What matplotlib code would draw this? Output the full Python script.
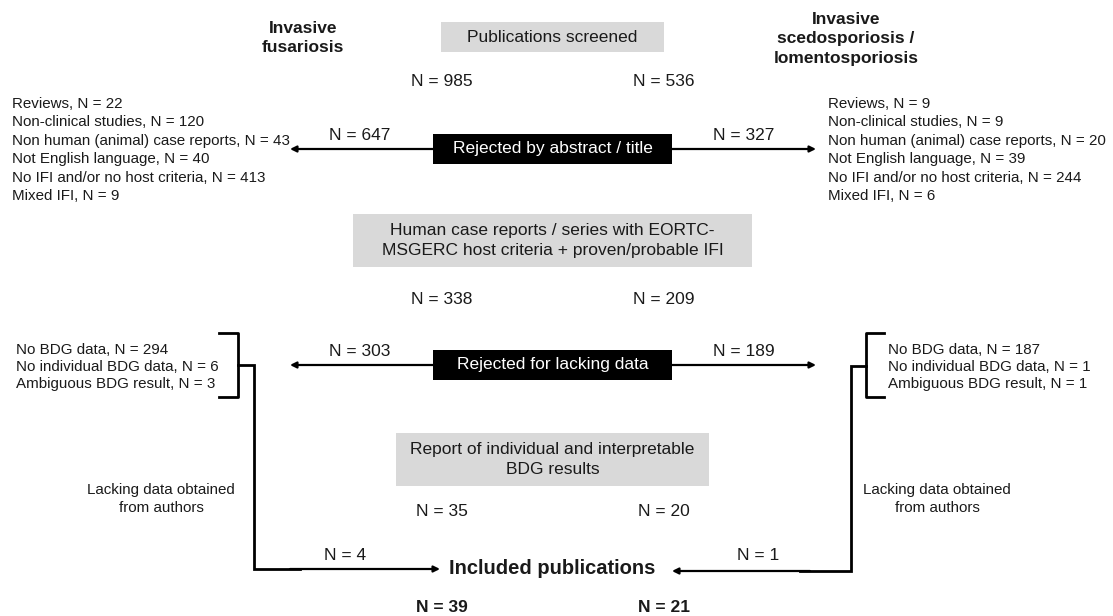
import matplotlib.pyplot as plt
from matplotlib.patches import Rectangle

plt.rcParams['font.family'] = ['Liberation Sans', 'DejaVu Sans']

# chart content
groups = ["Invasive\nfusariosis", "Invasive\nscedosporiosis /\nlomentosporiosis"]
stages = ["Publications screened",
          "Human case reports / series with EORTC-\nMSGERC host criteria + proven/probable IFI",
          "Report of individual and interpretable\nBDG results"]
stage_left = [985, 338, 35]
stage_right = [536, 209, 20]
reject_steps = ["Rejected by abstract / title", "Rejected for lacking data"]
reject_left = [647, 303]
reject_right = [327, 189]
reasons1 = ["Reviews", "Non-clinical studies", "Non human (animal) case reports",
            "Not English language", "No IFI and/or no host criteria", "Mixed IFI"]
reasons1_left = [22, 120, 43, 40, 413, 9]
reasons1_right = [9, 9, 20, 39, 244, 6]
reasons2 = ["No BDG data", "No individual BDG data", "Ambiguous BDG result"]
reasons2_left = [294, 6, 3]
reasons2_right = [187, 1, 1]
authors_note = "Lacking data obtained\nfrom authors"
obtained_left = 4
obtained_right = 1
final_label = "Included publications"
final_left = 39
final_right = 21

TXT = '#1a1a1a'
GREY = '#d9d9d9'

fig = plt.figure(figsize=(11.13, 6.16), dpi=100)
ax = fig.add_axes([0, 0, 1, 1])
ax.set_xlim(0, 1113)
ax.set_ylim(616, 0)
ax.axis('off')

xl, xr = 442, 664   # N columns
xc = 552.5


def arrow(x0, y0, x1, y1):
    ax.annotate('', xy=(x1, y1), xytext=(x0, y0),
                arrowprops=dict(arrowstyle='-|>', lw=1.6, color='k',
                                mutation_scale=9, shrinkA=0, shrinkB=0))


# group titles
ax.text(303, 38, groups[0], ha='center', va='center', fontsize=12.5,
        fontweight='bold', color=TXT, linespacing=1.38)
ax.text(846, 39, groups[1], ha='center', va='center', fontsize=12.5,
        fontweight='bold', color=TXT, linespacing=1.38)

# grey stage boxes
boxes = [(441, 22, 223, 30), (353, 214, 399, 53), (396, 433, 313, 53)]
stage_y = [82, 299, 512]
for (bx, by, bw, bh), lab, nl, nr, ny in zip(boxes, stages, stage_left, stage_right, stage_y):
    ax.add_patch(Rectangle((bx, by), bw, bh, facecolor=GREY, edgecolor='none'))
    ax.text(bx + bw / 2, by + bh / 2, lab, ha='center', va='center',
            fontsize=12.5, color=TXT, linespacing=1.42)
    ax.text(xl, ny, f"N = {nl}", ha='center', va='center', fontsize=12.5, color=TXT)
    ax.text(xr, ny, f"N = {nr}", ha='center', va='center', fontsize=12.5, color=TXT)

# black rejection boxes with arrows
rej_y = [149, 365]
for lab, nl, nr, ry in zip(reject_steps, reject_left, reject_right, rej_y):
    ax.add_patch(Rectangle((433, ry - 15), 239, 30, facecolor='black', edgecolor='none'))
    ax.text(xc, ry, lab, ha='center', va='center', fontsize=12.5, color='white')
    arrow(433, ry, 290, ry)
    arrow(672, ry, 816, ry)
    ax.text(360, ry - 14, f"N = {nl}", ha='center', va='center', fontsize=12.5, color=TXT)
    ax.text(744, ry - 14, f"N = {nr}", ha='center', va='center', fontsize=12.5, color=TXT)

# first rejection reasons
for i, (r, nl, nr) in enumerate(zip(reasons1, reasons1_left, reasons1_right)):
    y = 104 + i * 18.4
    ax.text(12, y, f"{r}, N = {nl}", ha='left', va='center', fontsize=10.9, color=TXT)
    ax.text(828, y, f"{r}, N = {nr}", ha='left', va='center', fontsize=10.9, color=TXT)

# second rejection reasons with brackets
for i, (r, nl, nr) in enumerate(zip(reasons2, reasons2_left, reasons2_right)):
    y = 350 + i * 17
    ax.text(16, y, f"{r}, N = {nl}", ha='left', va='center', fontsize=10.9, color=TXT)
    ax.text(888, y, f"{r}, N = {nr}", ha='left', va='center', fontsize=10.9, color=TXT)

ax.plot([219, 238, 238, 219], [333, 333, 397, 397], color='k', lw=2)
ax.plot([884, 866, 866, 884], [333, 333, 397, 397], color='k', lw=2)

# recovered data paths
ax.plot([238, 254, 254, 300], [365, 365, 569, 569], color='k', lw=2,
        solid_joinstyle='miter')
arrow(290, 569, 440, 569)
ax.plot([866, 851, 851, 800], [366, 366, 571, 571], color='k', lw=2,
        solid_joinstyle='miter')
arrow(810, 571, 672, 571)

ax.text(161, 499, authors_note, ha='center', va='center', fontsize=10.9,
        color=TXT, linespacing=1.45)
ax.text(937, 499, authors_note, ha='center', va='center', fontsize=10.9,
        color=TXT, linespacing=1.45)
ax.text(345, 555, f"N = {obtained_left}", ha='center', va='center', fontsize=12.5, color=TXT)
ax.text(758, 556, f"N = {obtained_right}", ha='center', va='center', fontsize=12.5, color=TXT)

# final
ax.text(552, 569, final_label, ha='center', va='center', fontsize=14.5,
        fontweight='bold', color=TXT)
ax.text(xl, 607, f"N = {final_left}", ha='center', va='center', fontsize=12.5,
        fontweight='bold', color=TXT)
ax.text(xr, 607, f"N = {final_right}", ha='center', va='center', fontsize=12.5,
        fontweight='bold', color=TXT)

fig.savefig('out.png', dpi=100)
